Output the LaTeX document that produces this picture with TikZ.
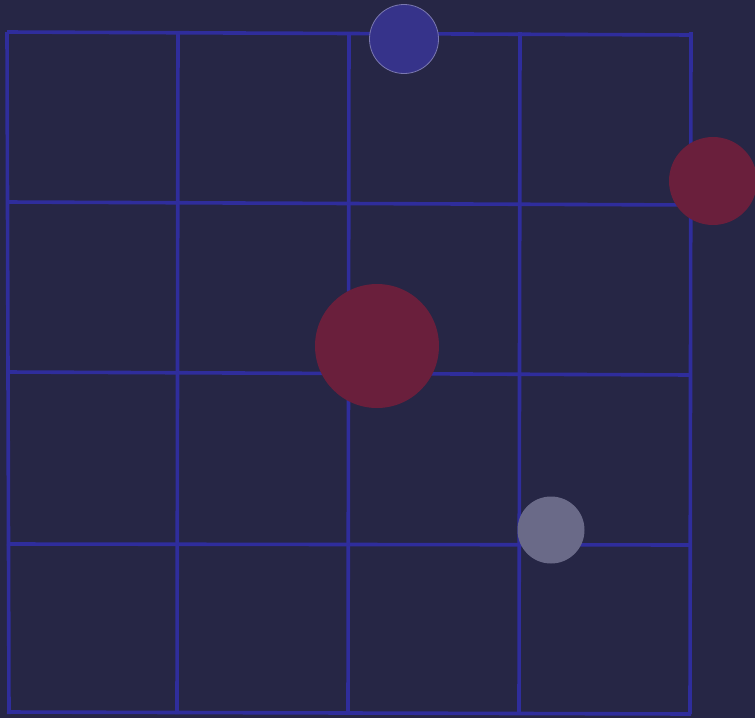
\documentclass[tikz,border=0pt]{standalone}
\usepackage{xcolor}
\usetikzlibrary{positioning}
\definecolor{bgnavy}{HTML}{262645}
\definecolor{gridblue}{HTML}{2F2D9C}
\definecolor{ballblue}{HTML}{36338A}
\definecolor{ballrim}{HTML}{7A78B0}
\definecolor{dotred}{HTML}{6A1F3C}
\definecolor{dotgrey}{HTML}{6A6A88}

\begin{document}
\begin{tikzpicture}[x=1pt,y=-1pt]
    % Fond
    \fill[bgnavy] (0,0) rectangle (755,718);
    \useasboundingbox (0,0) rectangle (755,718);
    
    % Grille
    \foreach \xa/\xb in {7/9, 178/177, 349/348, 520/519, 691/690} {
        \draw[gridblue, line width=3.6pt] (\xa,32) -- (\xb,714);
    }
    \foreach \ya/\yb in {32/35, 202/205, 372/375, 544/545, 712/714} {
        \draw[gridblue, line width=3.6pt] (7,\ya) -- (691,\yb);
    }
    
    % Disques
    \node[circle, fill=ballblue, draw=ballrim, line width=0.8pt, minimum size=69pt, inner sep=0pt] (bille) at (404,39) {};
    \node[circle, fill=dotred, minimum size=88pt, inner sep=0pt] (rouge1) at (713,181) {};
    \node[circle, fill=dotred, minimum size=124pt, inner sep=0pt] (rouge2) at (377,346) {};
    \node[circle, fill=dotgrey, minimum size=67pt, inner sep=0pt] (gris) at (551,530) {};
\end{tikzpicture}
\end{document}
